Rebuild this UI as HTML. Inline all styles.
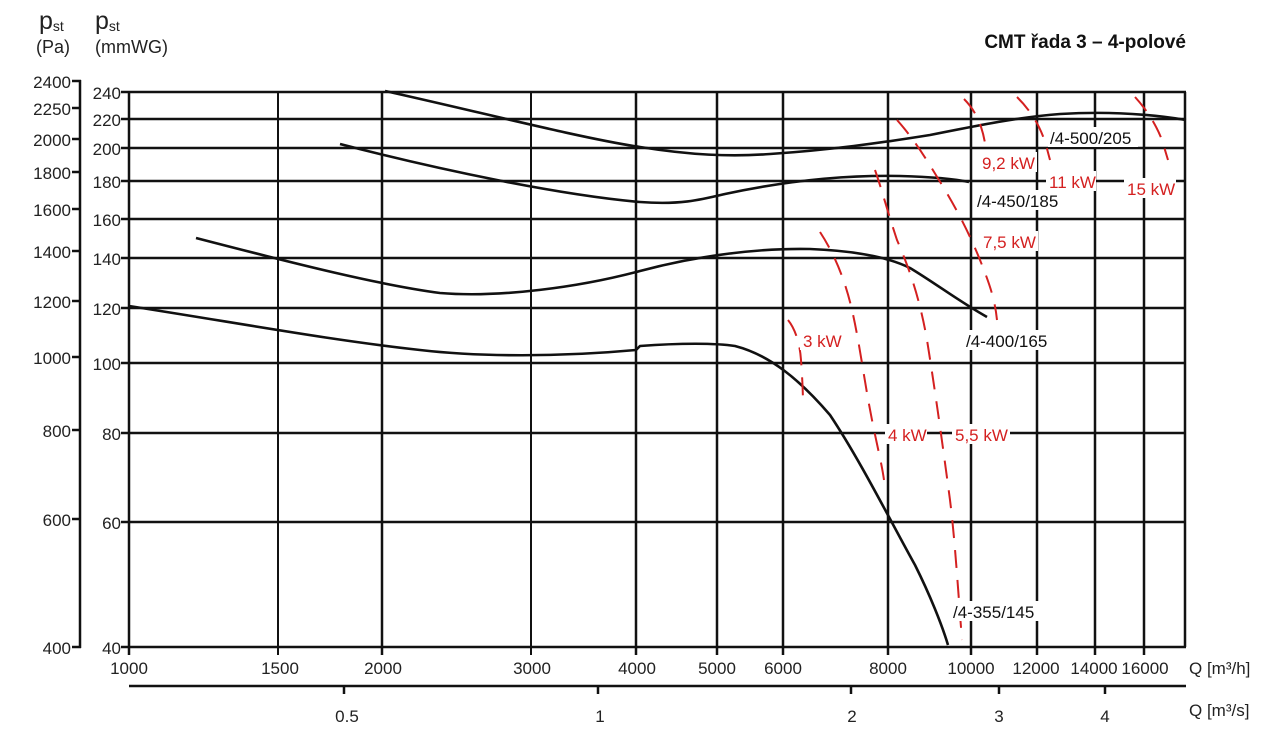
<!DOCTYPE html>
<html><head><meta charset="utf-8"><style>
html,body{margin:0;padding:0;background:#fff;}
svg{display:block;font-family:"Liberation Sans",sans-serif;}
</style></head><body>
<svg width="1282" height="749" viewBox="0 0 1282 749" xmlns="http://www.w3.org/2000/svg">
<rect width="1282" height="749" fill="#fff"/>
<!-- header -->
<text x="39" y="29" font-size="25" fill="#222">p<tspan font-size="14" dy="2">st</tspan></text>
<text x="36" y="53" font-size="18" fill="#222">(Pa)</text>
<text x="95" y="29" font-size="25" fill="#222">p<tspan font-size="14" dy="2">st</tspan></text>
<text x="95" y="53" font-size="18" fill="#222">(mmWG)</text>
<text x="1186" y="48" font-size="19" font-weight="bold" text-anchor="end" fill="#111">CMT řada 3 – 4-polové</text>

<!-- Pa axis -->
<g stroke="#111" stroke-width="2.5">
<line x1="80" y1="80" x2="80" y2="648"/>
<line x1="72" y1="81" x2="81" y2="81"/><line x1="72" y1="108" x2="81" y2="108"/>
<line x1="72" y1="139" x2="81" y2="139"/><line x1="72" y1="172" x2="81" y2="172"/>
<line x1="72" y1="209" x2="81" y2="209"/><line x1="72" y1="251" x2="81" y2="251"/>
<line x1="72" y1="301" x2="81" y2="301"/><line x1="72" y1="357" x2="81" y2="357"/>
<line x1="72" y1="430" x2="81" y2="430"/><line x1="72" y1="519" x2="81" y2="519"/>
<line x1="72" y1="647" x2="81" y2="647"/>
</g>
<g font-size="17" fill="#222" text-anchor="end">
<text x="71" y="88">2400</text><text x="71" y="115">2250</text><text x="71" y="146">2000</text>
<text x="71" y="179">1800</text><text x="71" y="216">1600</text><text x="71" y="258">1400</text>
<text x="71" y="308">1200</text><text x="71" y="364">1000</text><text x="71" y="437">800</text>
<text x="71" y="526">600</text><text x="71" y="654">400</text>
</g>

<!-- grid -->
<g stroke="#111" stroke-width="2.5">
<line x1="121" y1="92" x2="1186" y2="92"/>
<line x1="121" y1="119" x2="1186" y2="119"/>
<line x1="121" y1="148" x2="1186" y2="148"/>
<line x1="121" y1="181" x2="1186" y2="181"/>
<line x1="121" y1="219" x2="1186" y2="219"/>
<line x1="121" y1="258" x2="1186" y2="258"/>
<line x1="121" y1="308" x2="1186" y2="308"/>
<line x1="121" y1="363" x2="1186" y2="363"/>
<line x1="121" y1="433" x2="1186" y2="433"/>
<line x1="121" y1="522" x2="1186" y2="522"/>
<line x1="121" y1="647" x2="1186" y2="647"/>
<line x1="129" y1="92" x2="129" y2="655"/>
<line x1="278" y1="92" x2="278" y2="655" stroke-width="2"/>
<line x1="382" y1="92" x2="382" y2="655"/>
<line x1="531" y1="92" x2="531" y2="655" stroke-width="2"/>
<line x1="636" y1="92" x2="636" y2="655"/>
<line x1="717" y1="92" x2="717" y2="655"/>
<line x1="783" y1="92" x2="783" y2="655"/>
<line x1="888" y1="92" x2="888" y2="655"/>
<line x1="971" y1="92" x2="971" y2="655"/>
<line x1="1037" y1="92" x2="1037" y2="655"/>
<line x1="1095" y1="92" x2="1095" y2="655"/>
<line x1="1144" y1="92" x2="1144" y2="655"/>
<line x1="1185" y1="92" x2="1185" y2="647"/>
<!-- second axis -->
<line x1="129" y1="686" x2="1186" y2="686"/>
<line x1="344" y1="686" x2="344" y2="694"/>
<line x1="598" y1="686" x2="598" y2="694"/>
<line x1="851" y1="686" x2="851" y2="694"/>
<line x1="999" y1="686" x2="999" y2="694"/>
<line x1="1105" y1="686" x2="1105" y2="694"/>
</g>
<g font-size="17" fill="#222" text-anchor="end">
<text x="121" y="99">240</text><text x="121" y="126">220</text><text x="121" y="155">200</text>
<text x="121" y="188">180</text><text x="121" y="226">160</text><text x="121" y="265">140</text>
<text x="121" y="315">120</text><text x="121" y="370">100</text><text x="121" y="440">80</text>
<text x="121" y="529">60</text><text x="121" y="654">40</text>
</g>
<g font-size="17" fill="#222" text-anchor="middle">
<text x="129" y="674">1000</text><text x="280" y="674">1500</text><text x="383" y="674">2000</text>
<text x="532" y="674">3000</text><text x="637" y="674">4000</text><text x="717" y="674">5000</text>
<text x="783" y="674">6000</text><text x="888" y="674">8000</text><text x="971" y="674">10000</text>
<text x="1036" y="674">12000</text><text x="1094" y="674">14000</text><text x="1145" y="674">16000</text>
<text x="347" y="722">0.5</text><text x="600" y="722">1</text><text x="852" y="722">2</text>
<text x="999" y="722">3</text><text x="1105" y="722">4</text>
</g>
<text x="1189" y="674" font-size="17" fill="#222">Q [m³/h]</text>
<text x="1189" y="716" font-size="17" fill="#222">Q [m³/s]</text>

<!-- fan curves -->
<g fill="none" stroke="#111" stroke-width="2.6" stroke-linejoin="round">
<path d="M129,306 C250,325 330,340 420,350 C480,357 560,357 636,350 L640,346 C680,343 716,343 735,346 C770,355 800,380 830,415 C860,460 890,520 915,565 C930,595 942,625 948,645"/>
<path d="M196,238 C300,265 380,285 440,293 C500,298 580,287 640,271 C700,255 760,248 810,249 C860,251 890,258 910,268 C935,283 960,302 987,317"/>
<path d="M340,144 C440,170 560,195 640,202 C680,205 700,200 725,194 C790,180 850,175 900,176 C935,177 955,179 969,182"/>
<path d="M385,91 C480,112 580,138 640,147 C690,155 730,157 770,154 C830,150 880,143 930,135 C980,125 1020,117 1060,114 C1110,111 1150,114 1186,120"/>
</g>

<!-- power lines -->
<g fill="none" stroke="#d42020" stroke-width="2" stroke-dasharray="18,12">
<path d="M788,320 C796,330 800,345 801,360 C802,375 803,390 803,405"/>
<path d="M820,232 C835,255 845,280 852,310 C860,345 864,380 872,420 C878,450 882,465 884,480"/>
<path d="M875,170 C882,190 887,210 897,240 C910,270 920,300 927,340 C935,390 942,440 950,500 C955,540 958,590 962,640"/>
<path d="M897,120 C915,140 930,165 945,190 C960,215 972,240 980,260 C990,285 995,300 997,320"/>
<path d="M964,99 C975,110 983,125 986,150"/>
<path d="M1017,97 C1030,110 1040,125 1046,145 L1050,160"/>
<path d="M1135,97 C1145,108 1155,122 1162,140 L1168,160"/>
</g>

<!-- labels -->
<g font-size="17" fill="#111">
<rect x="1048" y="127" width="90" height="20" fill="#fff"/>
<text x="1050" y="144">/4-500/205</text>
<rect x="975" y="190" width="90" height="20" fill="#fff"/>
<text x="977" y="207">/4-450/185</text>
<rect x="964" y="330" width="90" height="20" fill="#fff"/>
<text x="966" y="347">/4-400/165</text>
<rect x="951" y="601" width="90" height="20" fill="#fff"/>
<text x="953" y="618">/4-355/145</text>
</g>
<g font-size="17" fill="#d42020">
<rect x="800" y="330" width="42" height="20" fill="#fff"/><text x="803" y="347">3 kW</text>
<rect x="885" y="424" width="42" height="20" fill="#fff"/><text x="888" y="441">4 kW</text>
<rect x="952" y="424" width="58" height="20" fill="#fff"/><text x="955" y="441">5,5 kW</text>
<rect x="980" y="231" width="58" height="20" fill="#fff"/><text x="983" y="248">7,5 kW</text>
<rect x="979" y="152" width="58" height="20" fill="#fff"/><text x="982" y="169">9,2 kW</text>
<rect x="1046" y="171" width="50" height="20" fill="#fff"/><text x="1049" y="188">11 kW</text>
<rect x="1124" y="178" width="52" height="20" fill="#fff"/><text x="1127" y="195">15 kW</text>
</g>
</svg>
</body></html>
